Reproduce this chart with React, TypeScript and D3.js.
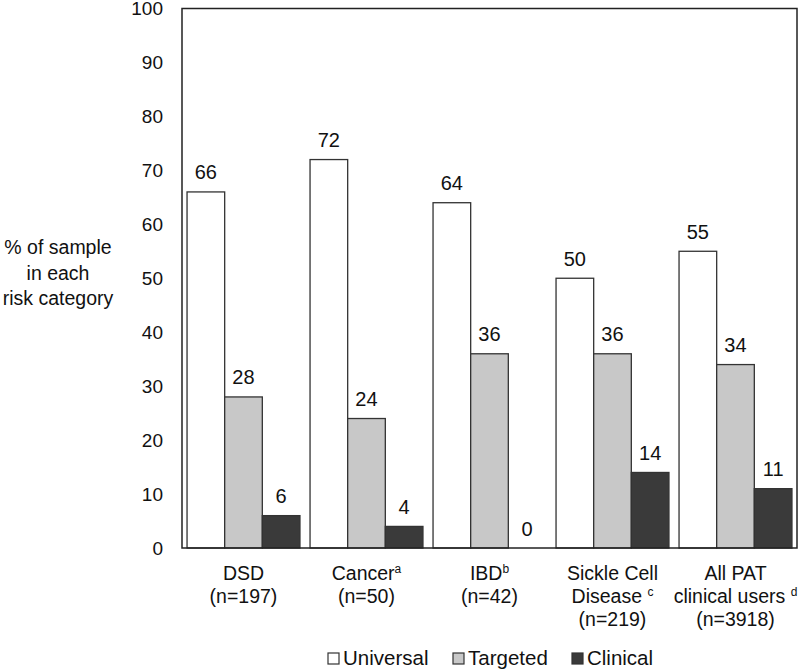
import React from "react";
import * as d3 from "d3";

const categories = ["DSD", "Cancer", "IBD", "Sickle Cell Disease", "All PAT clinical users"];
const categoryLines: { text: string; sup?: string }[][] = [
  [{ text: "DSD" }, { text: "(n=197)" }],
  [{ text: "Cancer", sup: "a" }, { text: "(n=50)" }],
  [{ text: "IBD", sup: "b" }, { text: "(n=42)" }],
  [{ text: "Sickle Cell" }, { text: "Disease ", sup: "c" }, { text: "(n=219)" }],
  [{ text: "All PAT" }, { text: "clinical users ", sup: "d" }, { text: "(n=3918)" }],
];
const seriesNames = ["Universal", "Targeted", "Clinical"];
const universal = [66, 72, 64, 50, 55];
const targeted = [28, 24, 36, 36, 34];
const clinical = [6, 4, 0, 14, 11];
const yTicks = [0, 10, 20, 30, 40, 50, 60, 70, 80, 90, 100];
const colors = ["#ffffff", "#c8c8c8", "#3a3a3a"];

export default function App() {
  const W = 800, H = 671;
  const left = 182, right = 797, top = 8.5, bottom = 548;
  const series = [universal, targeted, clinical];

  const x0 = d3.scaleBand<string>().domain(categories).range([left, right]).paddingInner(0.082).paddingOuter(0.041);
  const x1 = d3.scaleBand<string>().domain(seriesNames).range([0, x0.bandwidth()]).padding(0);
  const y = d3.scaleLinear().domain([0, 100]).range([bottom, top]);
  const font = "Liberation Sans, Arial, sans-serif";

  const legendItems = [
    { name: seriesNames[0], x: 328 },
    { name: seriesNames[1], x: 453 },
    { name: seriesNames[2], x: 572 },
  ];

  return (
    <svg width={W} height={H} style={{ position: "absolute", left: 0, top: 0, background: "#fff" }} fontFamily={font}>
      <rect x={0} y={0} width={W} height={H} fill="#fff" />
      {/* bars */}
      {categories.map((c, i) => (
        <g key={c} transform={`translate(${x0(c)},0)`}>
          {seriesNames.map((s, j) => {
            const v = series[j][i];
            const bx = x1(s)!;
            const bw = x1.bandwidth();
            return (
              <g key={s}>
                {v > 0 && (
                  <rect x={bx} y={y(v)} width={bw} height={y(0) - y(v)} fill={colors[j]} stroke="#333" strokeWidth={1.3} />
                )}
                <text x={bx + bw / 2} y={y(v) - 12.5} textAnchor="middle" fontSize={20} fill="#111">
                  {v}
                </text>
              </g>
            );
          })}
        </g>
      ))}
      {/* frame */}
      <rect x={left} y={top} width={right - left} height={bottom - top} fill="none" stroke="#222" strokeWidth={1.5} />
      {/* y ticks */}
      {yTicks.map((t) => (
        <text key={t} x={163} y={y(t)} dy="0.36em" textAnchor="end" fontSize={19} fill="#111">
          {t}
        </text>
      ))}
      {/* y label */}
      {["% of sample", "in each", "risk category"].map((l, i) => (
        <text key={l} x={58} y={254 + i * 25.5} textAnchor="middle" fontSize={19.5} fill="#111">
          {l}
        </text>
      ))}
      {/* category labels */}
      {categories.map((c, i) => (
        <g key={c}>
          {categoryLines[i].map((ln, k) => (
            <text key={k} x={x0(c)! + x0.bandwidth() / 2} y={579.5 + k * 23} textAnchor="middle" fontSize={19.5} fill="#111">
              <tspan>{ln.text}</tspan>
              {ln.sup && (
                <tspan fontSize={12} dy={-7}>
                  {ln.sup}
                </tspan>
              )}
            </text>
          ))}
        </g>
      ))}
      {/* legend */}
      {legendItems.map((it, j) => (
        <g key={it.name}>
          <rect x={it.x} y={653} width={11} height={11} fill={colors[j]} stroke="#333" strokeWidth={1.2} />
          <text x={it.x + 15} y={665} fontSize={20.5} fill="#111">
            {it.name}
          </text>
        </g>
      ))}
    </svg>
  );
}
